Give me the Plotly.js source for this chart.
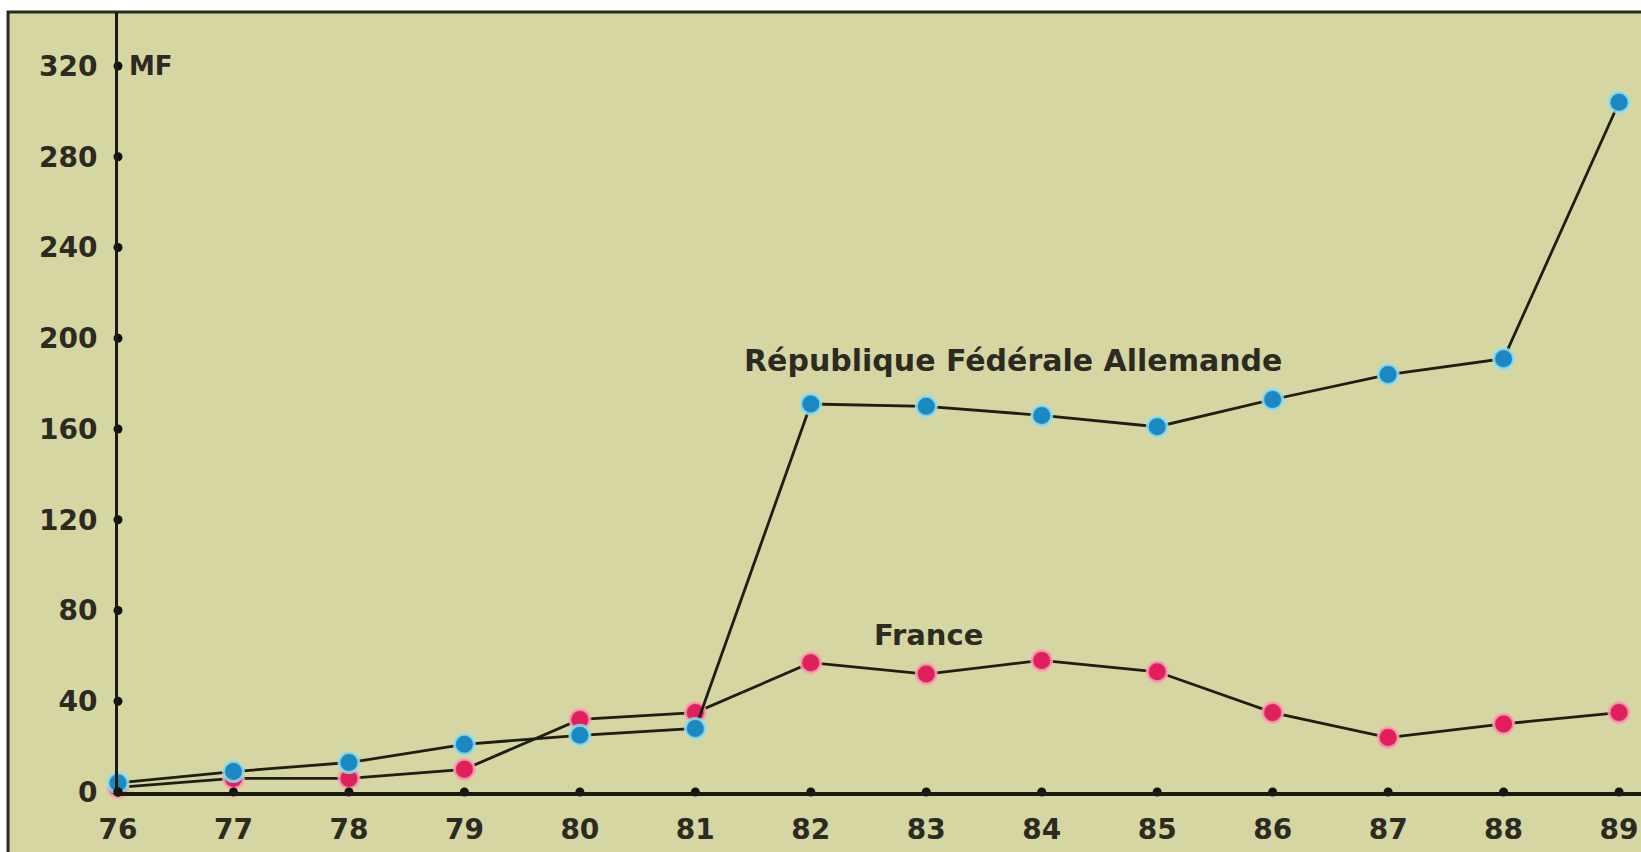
<!DOCTYPE html>
<html>
<head>
<meta charset="utf-8">
<script src="https://cdn.plot.ly/plotly-3.0.1.min.js"></script>
<style>
html,body{margin:0;padding:0;background:#ffffff;}
#chart{width:1641px;height:852px;}
</style>
</head>
<body>
<div id="chart"></div>
<script>
// Data
const years = [76,77,78,79,80,81,82,83,84,85,86,87,88,89];
const yearLabels = ['76','77','78','79','80','81','82','83','84','85','86','87','88','89'];
const rfa = [4,9,13,21,25,28,171,170,166,161,173,184,191,304];
const france = [2,6,6,10,32,35,57,52,58,53,35,24,30,35];
const yTicks = [0,40,80,120,160,200,240,280,320];
const yTickLabels = ['0','40','80','120','160','200','240','280','320'];
const rfaLabel = 'République Fédérale Allemande';
const franceLabel = 'France';
const unitLabel = 'MF';

const fontFam = '"DejaVu Sans", Verdana, sans-serif';
const ink = '#2b2b22';

const traces = [
  {
    x: years, y: france, type: 'scatter', mode: 'lines+markers', name: franceLabel,
    line: {color: '#1e1e14', width: 2.8},
    marker: {color: '#e0205c', size: 20, line: {color: 'rgba(245,165,180,0.8)', width: 3}},
    cliponaxis: false, hoverinfo: 'x+y'
  },
  {
    x: years, y: rfa, type: 'scatter', mode: 'lines+markers', name: rfaLabel,
    line: {color: '#1e1e14', width: 2.8},
    marker: {color: '#1b88c4', size: 20, line: {color: 'rgba(150,225,235,0.8)', width: 3}},
    cliponaxis: false, hoverinfo: 'x+y'
  },
  // tick dots on y axis
  {
    x: yTicks.map(() => years[0]), y: yTicks, type: 'scatter', mode: 'markers',
    marker: {color: '#111', size: 9}, cliponaxis: false, hoverinfo: 'skip'
  },
  // tick dots on x axis
  {
    x: years, y: years.map(() => 0), type: 'scatter', mode: 'markers',
    marker: {color: '#111', size: 9}, cliponaxis: false, hoverinfo: 'skip'
  }
];

const layout = {
  width: 1641, height: 852,
  margin: {l: 118, r: 0, t: 12, b: 60},
  paper_bgcolor: '#ffffff',
  plot_bgcolor: 'rgba(0,0,0,0)',
  showlegend: false,
  font: {family: fontFam, color: ink},
  xaxis: {
    range: [76, 89.19], tickvals: years, ticktext: yearLabels,
    showgrid: false, zeroline: false, showline: true, linecolor: '#1a1a10', linewidth: 4,
    ticks: '', ticklabelstandoff: 9,
    tickfont: {family: fontFam, size: 28, color: ink, weight: 'bold'}
  },
  yaxis: {
    range: [0, 343.8], tickvals: yTicks, ticktext: yTickLabels,
    showgrid: false, zeroline: false, showline: true, linecolor: '#1a1a10', linewidth: 3,
    ticks: '', ticklabelstandoff: 12,
    tickfont: {family: fontFam, size: 28, color: ink, weight: 'bold'}
  },
  shapes: [
    {type: 'rect', xref: 'paper', yref: 'paper', x0: -0.0722, x1: 1.02, y0: -0.2, y1: 1.0,
     fillcolor: '#d6d6a2', line: {color: '#2a2a22', width: 3}, layer: 'below'}
  ],
  annotations: [
    {x: years[0], y: yTicks[yTicks.length-1], xref: 'x', yref: 'y', text: unitLabel, showarrow: false,
     xanchor: 'left', yanchor: 'middle', xshift: 9,
     font: {family: fontFam, size: 26, color: ink, weight: 'bold'}},
    {x: 83.75, y: 190.4, xref: 'x', yref: 'y', text: rfaLabel, showarrow: false,
     xanchor: 'center', yanchor: 'middle',
     font: {family: fontFam, size: 30, color: ink, weight: 'bold'}},
    {x: 83.02, y: 69.2, xref: 'x', yref: 'y', text: franceLabel, showarrow: false,
     xanchor: 'center', yanchor: 'middle',
     font: {family: fontFam, size: 29, color: ink, weight: 'bold'}}
  ]
};

Plotly.newPlot('chart', traces, layout, {displayModeBar: false, staticPlot: true});
</script>
</body>
</html>
